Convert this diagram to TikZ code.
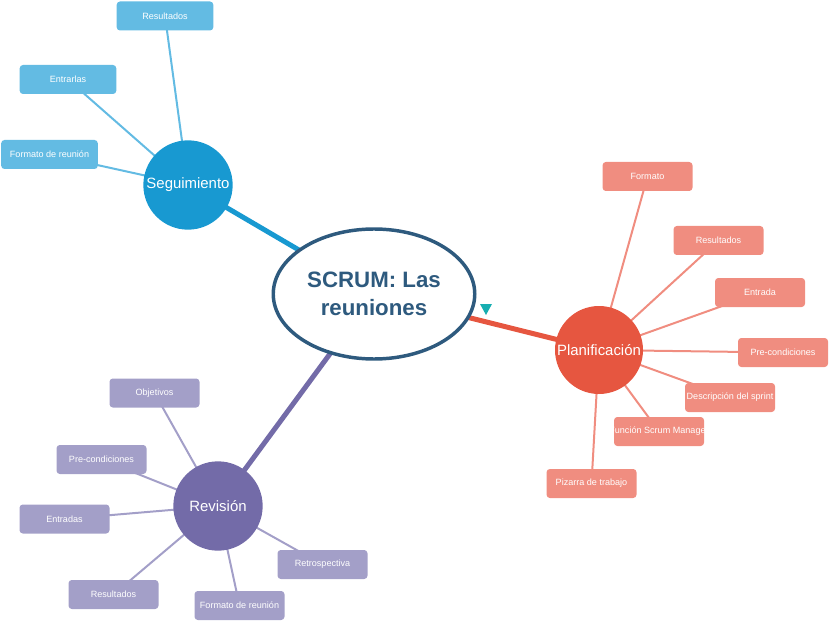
\documentclass[tikz,border=0pt]{standalone}
\usepackage{fontspec}
\setmainfont{Liberation Sans}
\usetikzlibrary{shapes.geometric}
\pgfdeclarelayer{bg}
\pgfsetlayers{bg,main}
\definecolor{segC}{HTML}{1899D1}
\definecolor{segL}{HTML}{63BBE3}
\definecolor{plaC}{HTML}{E65640}
\definecolor{plaL}{HTML}{F08D80}
\definecolor{revC}{HTML}{736BA8}
\definecolor{revL}{HTML}{A39FC8}
\definecolor{mainC}{HTML}{2E5A7E}
\definecolor{triC}{HTML}{17AEB1}
\tikzset{
  hub/.style={circle, minimum size=67pt, inner sep=0pt, text=white, font=\fontsize{11.2}{13}\selectfont},
  leaf/.style={rectangle, rounded corners=2.5pt, minimum width=67.5pt, minimum height=21.75pt, inner sep=0pt, text=white, font=\fontsize{6.8}{8}\selectfont},
  wideleaf/.style={leaf, minimum width=72.5pt},
  trunk/.style={line width=3.75pt},
  twig/.style={line width=1.5pt},
}
\begin{document}
\begin{tikzpicture}[x=0.75pt,y=-0.75pt]
\useasboundingbox (0,0) rectangle (830,623);
% central
\node[ellipse, minimum width=150pt, minimum height=97.5pt, draw=mainC, line width=2.6pt, fill=white, text=mainC, align=center, font=\bfseries\fontsize{16.7}{20.5}\selectfont] (c) at (374,294) {SCRUM: Las\\reuniones};
\fill[triC] (480,304) -- (492,304) -- (486,315) -- cycle;
% hubs
\node[hub, fill=segC] (seg) at (188,185) {Seguimiento};
\node[hub, fill=plaC, minimum size=66pt] (pla) at (599,350) {Planificación};
\node[hub, fill=revC] (rev) at (218,506) {Revisión};
% Seguimiento leaves
\node[wideleaf, fill=segL] (s1) at (165,16) {Resultados};
\node[wideleaf, fill=segL] (s2) at (68,79.5) {Entrarlas};
\node[wideleaf, fill=segL] (s3) at (49.5,154.5) {Formato de reunión};
% Planificacion leaves
\node[leaf, fill=plaL] (p1) at (647.5,176.5) {Formato};
\node[leaf, fill=plaL] (p2) at (718.5,240.5) {Resultados};
\node[leaf, fill=plaL] (p3) at (760,292.5) {Entrada};
\node[leaf, fill=plaL] (p4) at (783,352.5) {Pre-condiciones};
\node[leaf, fill=plaL] (p5) at (730,397.5) {Descripción del sprint};
\node[leaf, fill=plaL] (p6) at (659,431.5) {};
\begin{scope}
  \clip (p6.south west) rectangle (p6.north east);
  \node[text=white, font=\fontsize{6.8}{8}\selectfont, inner sep=0pt] (p6t) at (p6.center) {Función Scrum Manager};
\end{scope}
\node[leaf, fill=plaL] (p7) at (591.5,483.5) {Pizarra de trabajo};
% Revision leaves
\node[leaf, fill=revL] (r1) at (154.5,393) {Objetivos};
\node[leaf, fill=revL] (r2) at (101.5,459.5) {Pre-condiciones};
\node[leaf, fill=revL] (r3) at (64.5,519) {Entradas};
\node[leaf, fill=revL] (r4) at (113.5,594.5) {Resultados};
\node[leaf, fill=revL] (r5) at (239.5,605.5) {Formato de reunión};
\node[leaf, fill=revL] (r6) at (322.5,564.5) {Retrospectiva};
% connectors
\begin{pgfonlayer}{bg}
  \draw[trunk, segC] (c.center) -- (seg.center);
  \draw[trunk, plaC] (c.center) -- (pla.center);
  \draw[trunk, revC] (c.center) -- (rev.center);
  \foreach \n in {s1,s2,s3} \draw[twig, segL] (seg.center) -- (\n.center);
  \foreach \n in {p1,p2,p3,p4,p5,p6,p7} \draw[twig, plaL] (pla.center) -- (\n.center);
  \foreach \n in {r1,r2,r3,r4,r5,r6} \draw[twig, revL] (rev.center) -- (\n.center);
\end{pgfonlayer}
\end{tikzpicture}
\end{document}
